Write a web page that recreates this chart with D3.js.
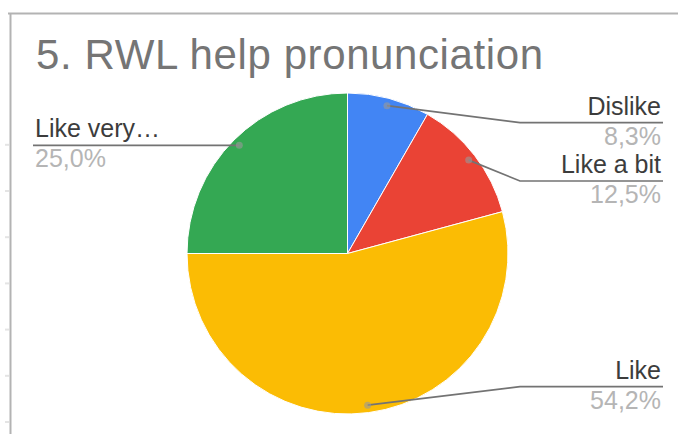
<!DOCTYPE html>
<html>
<head>
<meta charset="utf-8">
<script src="https://cdn.jsdelivr.net/npm/d3@7"></script>
<style>
  html, body { margin: 0; padding: 0; background: #fff; }
  svg { display: block; }
  text { font-family: "Liberation Sans", Arial, sans-serif; }
</style>
</head>
<body>
<svg id="chart" width="678" height="434"></svg>
<script>
// Survey answers and their shares (percent)
const categories = ["Dislike", "Like a bit", "Like", "Like very much"];
const shortNames = ["Dislike", "Like a bit", "Like", "Like very…"];
const shares = [8.3, 12.5, 54.2, 25.0];
const sliceColors = ["#4285F4", "#EA4335", "#FBBC04", "#34A853"];
const titleText = "5. RWL help pronunciation";

const svg = d3.select("#chart");
const W = 678, H = 434;

// Frame lines
svg.append("line").attr("x1", 8).attr("x2", W).attr("y1", 13.5).attr("y2", 13.5)
  .attr("stroke", "#b3b3b3").attr("stroke-width", 2);
svg.append("line").attr("x1", 10.5).attr("x2", 10.5).attr("y1", 13).attr("y2", H)
  .attr("stroke", "#b3b3b3").attr("stroke-width", 2);
// faint row ticks to the left of the frame
svg.append("g").selectAll("line")
  .data(d3.range(7))
  .join("line")
  .attr("x1", 5).attr("x2", 9)
  .attr("y1", i => 422 - i * 46.2).attr("y2", i => 422 - i * 46.2)
  .attr("stroke", "#e4e4e4").attr("stroke-width", 2);

// Title
svg.append("text")
  .attr("x", 36).attr("y", 69)
  .attr("font-size", 42)
  .attr("fill", "#757575")
  .attr("textLength", 507)
  .attr("lengthAdjust", "spacing")
  .text(titleText);

// Pie
const cx = 347.5, cy = 253.5, R = 160.5;
const pie = d3.pie().sort(null).value(d => d);
const arcs = pie(shares);
const arc = d3.arc().innerRadius(0).outerRadius(R);
const dotArc = d3.arc().innerRadius(153).outerRadius(153);

const g = svg.append("g").attr("transform", `translate(${cx},${cy})`);
g.selectAll("path")
  .data(arcs)
  .join("path")
  .attr("d", arc)
  .attr("fill", (d, i) => sliceColors[i])
  .attr("stroke", "#fff")
  .attr("stroke-width", 1);

// Label layout: line y starts at the dot, then is kept inside bounds and spaced apart
const topY = 122.7, bottomY = 386.7, gap = 58.3;
const fmt = v => d3.format(".1f")(v).replace(".", ",") + "%";
const items = arcs.map((d, i) => {
  const [dx, dy] = dotArc.centroid(d);
  return { i, x: cx + dx, y: cy + dy, right: dx > 0 };
});
["right", "left"].forEach(side => {
  const list = items.filter(o => (side === "right") === o.right);
  let prev = -Infinity;
  list.forEach(o => {
    let ly = Math.min(Math.max(o.y, topY), bottomY);
    ly = Math.max(ly, prev + gap);
    o.ly = ly;
    prev = ly;
  });
  // keep within bottom bound by pushing upward
  for (let k = list.length - 1; k >= 0; k--) {
    const limit = k === list.length - 1 ? bottomY : list[k + 1].ly - gap;
    if (list[k].ly > limit) list[k].ly = limit;
  }
});

const elbowX = 520, rightEnd = 663, leftEnd = 33;
const labels = svg.append("g");
items.forEach(o => {
  const pts = o.right
    ? [[o.x, o.y], [elbowX, o.ly], [rightEnd, o.ly]]
    : [[o.x, o.y], [o.x, o.ly], [leftEnd, o.ly]];
  labels.append("path")
    .attr("d", d3.line()(pts))
    .attr("fill", "none")
    .attr("stroke", "#737373")
    .attr("stroke-width", 1.7);
  labels.append("circle")
    .attr("cx", o.x).attr("cy", o.y).attr("r", 3.5)
    .attr("fill", "#9a9a9a").attr("fill-opacity", 0.6);
  const tx = o.right ? rightEnd - 2 : leftEnd + 2;
  const anchor = o.right ? "end" : "start";
  labels.append("text")
    .attr("x", tx).attr("y", o.ly - 8)
    .attr("text-anchor", anchor)
    .attr("font-size", 25)
    .attr("fill", "#3c3c3c")
    .text(shortNames[o.i]);
  labels.append("text")
    .attr("x", tx).attr("y", o.ly + 22)
    .attr("text-anchor", anchor)
    .attr("font-size", 25)
    .attr("fill", "#b5b5b5")
    .text(fmt(shares[o.i]));
});
</script>
</body>
</html>
